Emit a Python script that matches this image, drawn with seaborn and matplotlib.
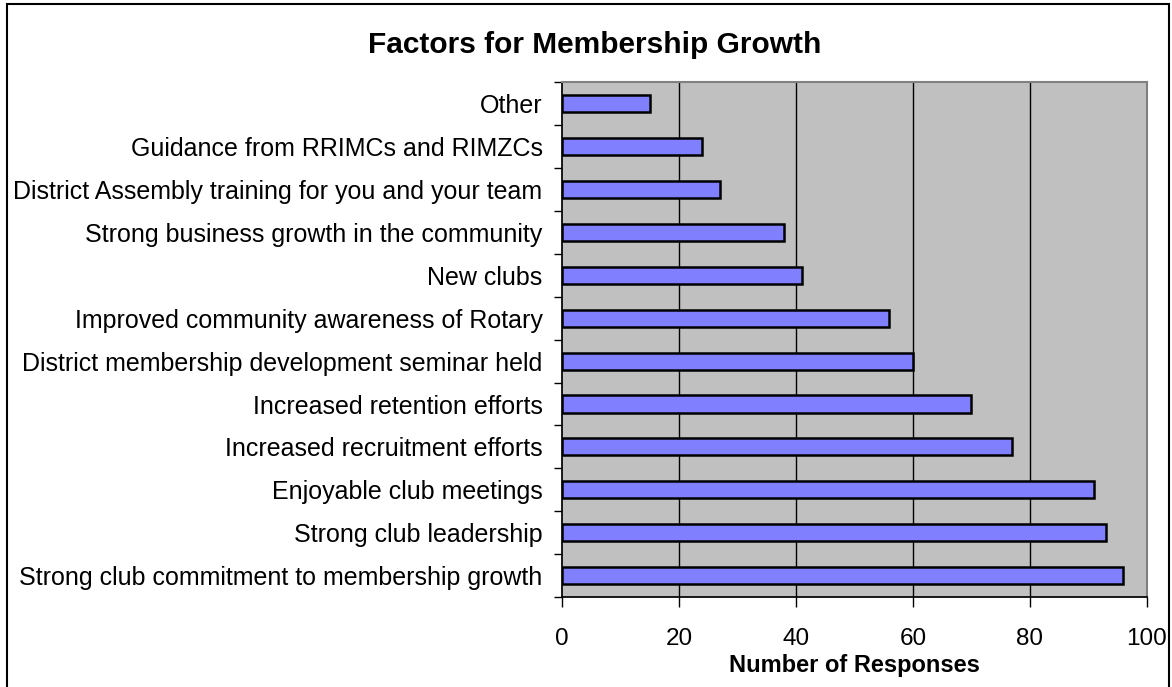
import matplotlib
matplotlib.use("Agg")
import matplotlib.pyplot as plt
import seaborn as sns
import pandas as pd
from matplotlib.patches import Rectangle

categories = [
    "Other",
    "Guidance from RRIMCs and RIMZCs",
    "District Assembly training for you and your team",
    "Strong business growth in the community",
    "New clubs",
    "Improved community awareness of Rotary",
    "District membership development seminar held",
    "Increased retention efforts",
    "Increased recruitment efforts",
    "Enjoyable club meetings",
    "Strong club leadership",
    "Strong club commitment to membership growth",
]
values = [15, 24, 27, 38, 41, 56, 60, 70, 77, 91, 93, 96]
x_ticks = [0, 20, 40, 60, 80, 100]

df = pd.DataFrame({"factor": categories, "responses": values})

sns.set_theme(style="white")
plt.rcParams["font.family"] = ["Liberation Sans", "DejaVu Sans"]
plt.rcParams["text.color"] = "black"
plt.rcParams["axes.labelcolor"] = "black"
plt.rcParams["xtick.color"] = "black"
plt.rcParams["ytick.color"] = "black"

fig = plt.figure(figsize=(11.72, 6.87), dpi=100)
ax = fig.add_axes([0.4795, 0.131, 0.499, 0.749])
ax.set_facecolor("#C0C0C0")

sns.barplot(data=df, y="factor", x="responses", orient="h", order=categories,
            color="#8080FF", edgecolor="black", linewidth=1.8, width=0.4,
            saturation=1, ax=ax)

ax.set_xlim(0, 100)
ax.set_ylim(len(categories) - 0.5, -0.5)
ax.set_xticks(x_ticks)
ax.set_xticklabels([str(t) for t in x_ticks], fontsize=17.5)
for t in x_ticks[1:-1]:
    ax.axvline(t, color="black", linewidth=1, zorder=0)
ax.set_axisbelow(True)

ax.set_yticks(range(len(categories)))
ax.set_yticklabels(categories, fontsize=18)
ax.tick_params(axis="y", length=0, pad=14)
ax.set_yticks([i - 0.5 for i in range(len(categories) + 1)], minor=True)
ax.tick_params(axis="y", which="minor", length=6, width=1, color="black", direction="out", left=True)
ax.tick_params(axis="x", length=7, width=1, color="black", direction="out", bottom=True, pad=15.5)

ax.set_ylabel("")
ax.set_xlabel("Number of Responses", fontsize=17, fontweight="bold", labelpad=2.5)
fig.text(595 / 1172, 1 - 45 / 687, "Factors for Membership Growth", fontsize=21.5,
         fontweight="bold", ha="center", va="center")

ax.spines["top"].set_color("#808080")
ax.spines["right"].set_color("#808080")
ax.spines["top"].set_linewidth(1.5)
ax.spines["right"].set_linewidth(1.5)
ax.spines["left"].set_color("black")
ax.spines["bottom"].set_color("black")

fig.patches.append(Rectangle((7 / 1172, -0.05), (1169 - 7) / 1172, 1 - 4 / 687 + 0.05,
                             transform=fig.transFigure, fill=False,
                             edgecolor="black", linewidth=1.5))

fig.savefig("out.png", dpi=100)
